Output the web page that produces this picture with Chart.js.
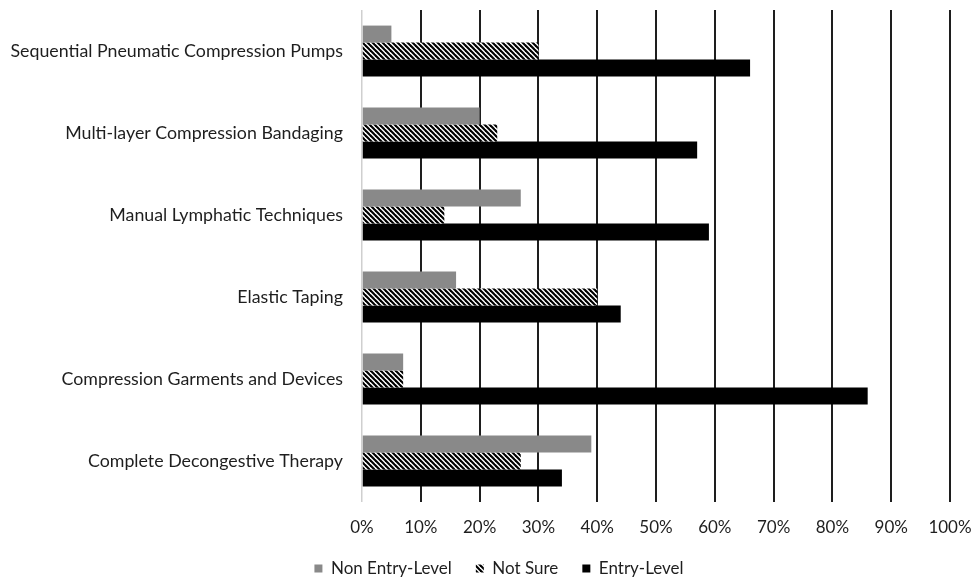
<!DOCTYPE html>
<html><head><meta charset="utf-8">
<script src="https://cdn.jsdelivr.net/npm/chart.js@4/dist/chart.umd.min.js"></script>
<style>html,body{margin:0;padding:0;background:#fff}</style>
</head><body>
<canvas id="c" width="973" height="578"></canvas>
<script>
const categories = [
  'Sequential Pneumatic Compression Pumps',
  'Multi-layer Compression Bandaging',
  'Manual Lymphatic Techniques',
  'Elastic Taping',
  'Compression Garments and Devices',
  'Complete Decongestive Therapy'
];
const seriesNames = ['Non Entry-Level', 'Not Sure', 'Entry-Level'];
const nonEntryLevel = [5, 20, 27, 16, 7, 39];
const notSure = [30, 23, 14, 40, 7, 27];
const entryLevel = [66, 57, 59, 44, 86, 34];
const xTickValues = [0, 10, 20, 30, 40, 50, 60, 70, 80, 90, 100];

function hatch() {
  const s = 5;
  const p = document.createElement('canvas');
  p.width = s; p.height = s;
  const g = p.getContext('2d');
  g.fillStyle = '#ffffff';
  g.fillRect(0, 0, s, s);
  g.strokeStyle = '#000000';
  g.lineWidth = 2.1;
  for (const o of [-s, 0, s]) {
    g.beginPath();
    g.moveTo(o - 1, -1);
    g.lineTo(o + s + 1, s + 1);
    g.stroke();
  }
  return g.createPattern(p, 'repeat');
}

const FONT = 'Lato';
const TXT = '#1e1e1e';

const shiftLegend = {
  id: 'shiftLegend',
  afterInit(chart) {
    const lg = chart.legend;
    const orig = lg.fit;
    lg.fit = function () { orig.call(this); this.height = 42; };
  },
  afterLayout(chart) {
    chart.legend.left += 24;
    chart.legend.right += 24;
  }
};

new Chart(document.getElementById('c'), {
  type: 'bar',
  data: {
    labels: categories,
    datasets: [
      { label: seriesNames[0], data: nonEntryLevel, backgroundColor: '#898989' },
      { label: seriesNames[1], data: notSure, backgroundColor: hatch() },
      { label: seriesNames[2], data: entryLevel, backgroundColor: '#000000' }
    ]
  },
  options: {
    indexAxis: 'y',
    responsive: false,
    animation: false,
    devicePixelRatio: 1,
    layout: { padding: { top: 10, right: 23, left: 0, bottom: 0 } },
    datasets: { bar: { categoryPercentage: 0.62, barPercentage: 1 } },
    scales: {
      x: {
        min: 0, max: 100,
        afterBuildTicks: s => { s.ticks = xTickValues.map(v => ({ value: v })); },
        afterFit: s => { s.height = 34; s.paddingLeft = 0; s.paddingRight = 0; },
        border: { display: false },
        grid: {
          drawTicks: false,
          color: c => c.index === 0 ? '#cfcfcf' : '#1e1e1e',
          lineWidth: c => c.index === 0 ? 1.5 : 2
        },
        ticks: { callback: v => v + '%', font: { family: FONT, size: 17 }, color: TXT, padding: 15, maxRotation: 0 }
      },
      y: {
        afterFit: s => { s.width = 362; s.paddingTop = 0; s.paddingBottom = 0; },
        border: { display: false },
        grid: { display: false, drawTicks: false },
        ticks: { font: { family: FONT, size: 17.8 }, color: TXT, padding: 19 }
      }
    },
    plugins: {
      legend: {
        position: 'bottom',
        labels: { font: { family: FONT, size: 17 }, color: TXT, boxWidth: 8, boxHeight: 8, padding: 24 }
      },
      tooltip: { enabled: false }
    }
  },
  plugins: [shiftLegend]
});
</script>
</body></html>
